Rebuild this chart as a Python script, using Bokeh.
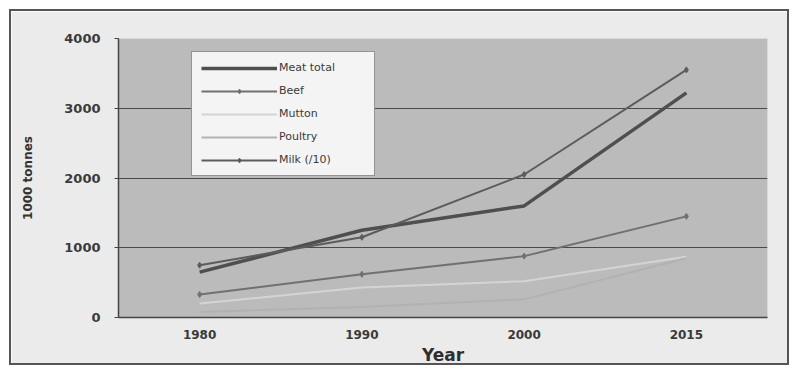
from bokeh.plotting import figure
from bokeh.models import FactorRange, Range1d, FixedTicker, Legend, LegendItem
from bokeh.embed import file_html
from bokeh.resources import INLINE

years = ["1980", "1990", "2000", "2015"]
meat_total = [650, 1250, 1600, 3220]
beef = [330, 620, 880, 1450]
mutton = [200, 430, 520, 870]
poultry = [80, 150, 260, 850]
milk_div10 = [750, 1150, 2050, 3550]
y_ticks = [0, 1000, 2000, 3000, 4000]

p = figure(width=780, height=356, x_range=FactorRange(*years, range_padding=0),
           y_range=Range1d(0, 4000), output_backend="svg", toolbar_location=None,
           min_border_left=107, min_border_right=24, min_border_top=27, min_border_bottom=50,
           styles={"margin-left": "9px", "margin-top": "9px",
                   "border": "2px solid #555555"})
p.background_fill_color = "#bbbbbb"
p.border_fill_color = "#ebebeb"
p.outline_line_color = None

p.ygrid.ticker = FixedTicker(ticks=y_ticks)
p.ygrid.grid_line_color = "#4a4a4a"
p.ygrid.grid_line_width = 1
p.xgrid.grid_line_color = None

p.yaxis.ticker = FixedTicker(ticks=y_ticks)
p.yaxis.axis_label = "1000 tonnes"
p.yaxis.axis_label_text_font = "DejaVu Sans"
p.yaxis.axis_label_text_font_style = "bold"
p.yaxis.axis_label_text_font_size = "12px"
p.yaxis.axis_label_text_color = "#333333"
p.yaxis.axis_label_standoff = 26
p.yaxis.major_label_text_font = "DejaVu Sans"
p.yaxis.major_label_text_font_style = "bold"
p.yaxis.major_label_text_font_size = "13px"
p.yaxis.major_label_text_color = "#3a3a3a"
p.yaxis.major_label_standoff = 14
p.yaxis.major_tick_out = 4
p.yaxis.major_tick_in = 0
p.yaxis.minor_tick_line_color = None
p.yaxis.axis_line_color = "#444444"
p.yaxis.axis_line_width = 1.5
p.yaxis.major_tick_line_color = "#444444"

p.xaxis.axis_label = "Year"
p.xaxis.axis_label_text_font = "DejaVu Sans"
p.xaxis.axis_label_text_font_style = "bold"
p.xaxis.axis_label_text_font_size = "17px"
p.xaxis.axis_label_text_color = "#2e2e2e"
p.xaxis.axis_label_standoff = 3
p.xaxis.major_label_text_font = "DejaVu Sans"
p.xaxis.major_label_text_font_style = "bold"
p.xaxis.major_label_text_font_size = "12px"
p.xaxis.major_label_text_color = "#3a3a3a"
p.xaxis.major_label_standoff = 12
p.xaxis.major_tick_line_color = None
p.xaxis.major_tick_out = 0
p.xaxis.axis_line_color = "#444444"
p.xaxis.axis_line_width = 1.5

r_meat = p.line(years, meat_total, line_color="#4f4f4f", line_width=3.5)
r_beef = p.line(years, beef, line_color="#707070", line_width=2)
r_beef_m = p.scatter(years, beef, marker="diamond", size=6, color="#707070")
r_mutton = p.line(years, mutton, line_color="#d4d4d4", line_width=2)
r_poultry = p.line(years, poultry, line_color="#b2b2b2", line_width=2)
r_milk = p.line(years, milk_div10, line_color="#5c5c5c", line_width=2)
r_milk_m = p.scatter(years, milk_div10, marker="diamond", size=6, color="#5c5c5c")

legend = Legend(items=[
    LegendItem(label="Meat total", renderers=[r_meat]),
    LegendItem(label="Beef", renderers=[r_beef, r_beef_m]),
    LegendItem(label="Mutton", renderers=[r_mutton]),
    LegendItem(label="Poultry", renderers=[r_poultry]),
    LegendItem(label="Milk (/10)", renderers=[r_milk, r_milk_m]),
], location=(73, 141))
legend.background_fill_color = "#f4f4f4"
legend.background_fill_alpha = 1
legend.border_line_color = "#333333"
legend.border_line_width = 1.5
legend.label_text_font = "DejaVu Sans"
legend.label_text_font_size = "11px"
legend.label_text_color = "#3a3a3a"
legend.glyph_width = 76
legend.glyph_height = 12
legend.label_height = 12
legend.spacing = 10
legend.padding = 9
legend.margin = 0
legend.label_standoff = 2
legend.label_width = 86
p.add_layout(legend)

open("out.html", "w").write(file_html(p, INLINE))
